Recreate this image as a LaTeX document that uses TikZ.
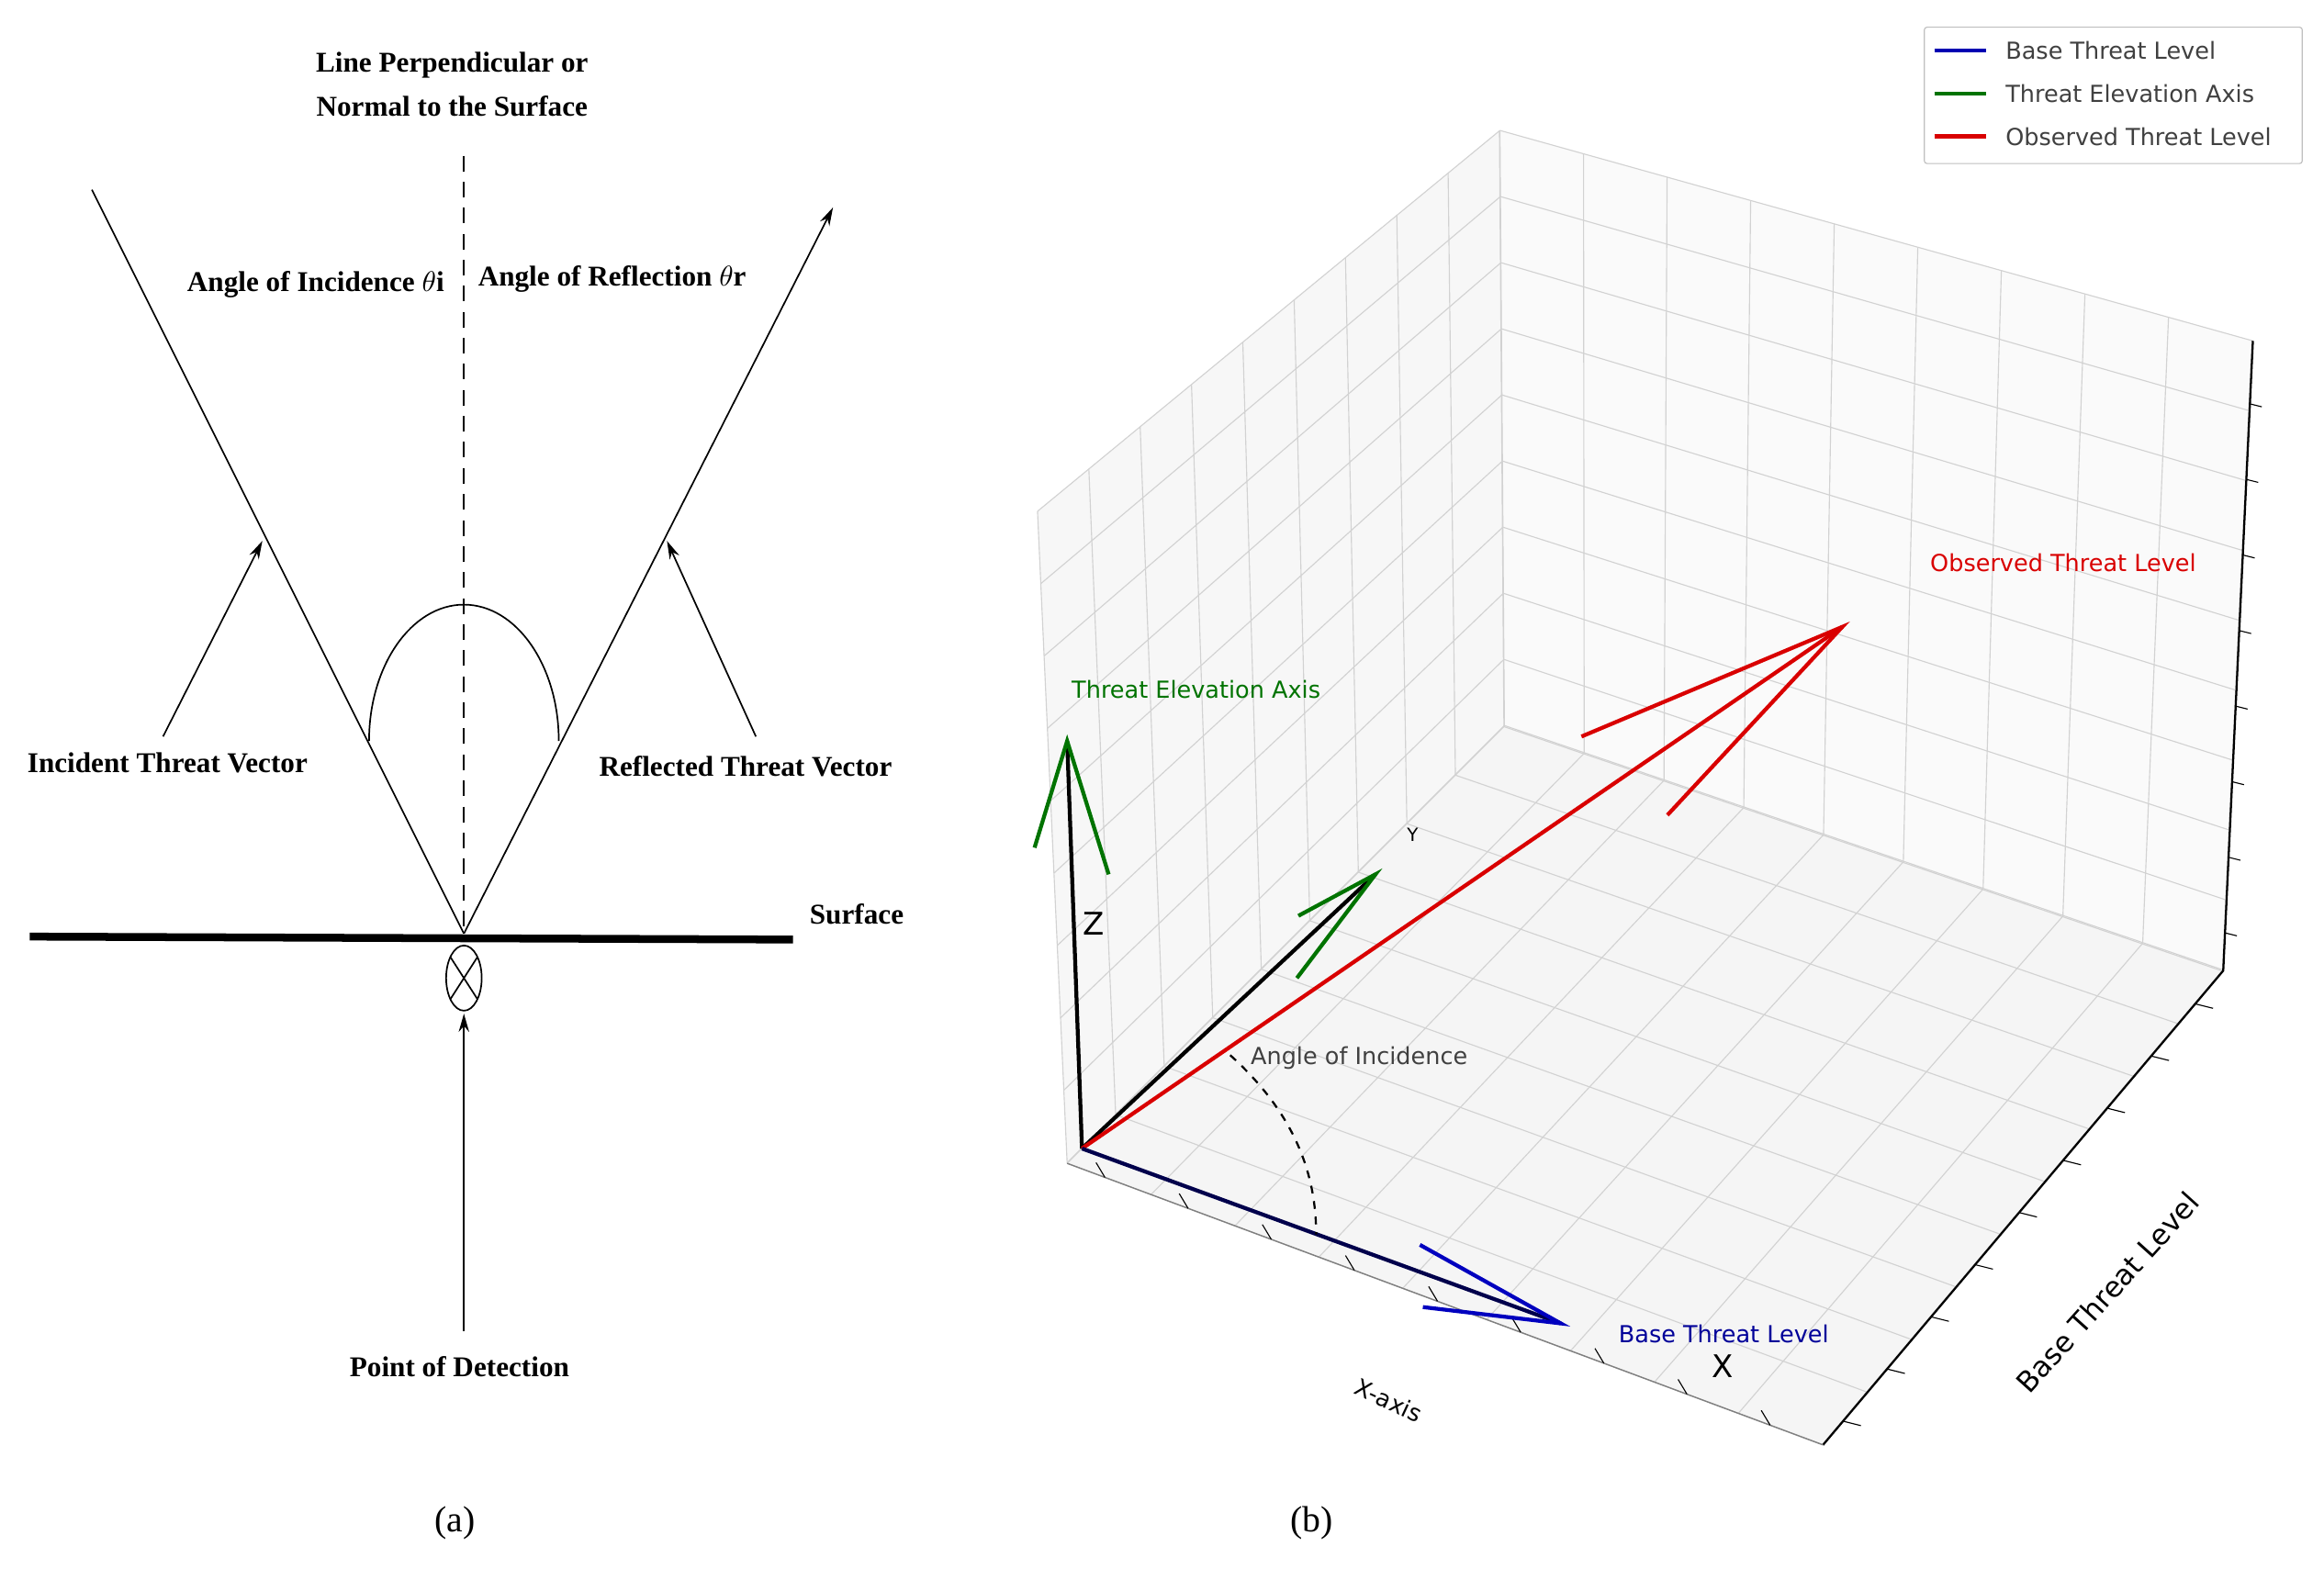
\documentclass[tikz,border=0pt]{standalone}
\usepackage{fontspec}
\setmainfont{Liberation Serif}
\newfontfamily\dv{DejaVu Sans}
\usetikzlibrary{calc,arrows.meta}
\begin{document}
\begin{tikzpicture}[x=0.02cm,y=-0.02cm,
  lt/.style={font=\fontsize{11}{13}\selectfont\bfseries},
  rt/.style={font=\dv\fontsize{9}{11}\selectfont},
  grid/.style={draw=gray!35,line width=0.4pt},
  arr/.style={-{Stealth[length=7pt,width=4pt]},line width=0.6pt}]
\useasboundingbox (0,0) rectangle (1568,1066);
% ---------- (a)
\node[lt,align=center] (title) at (305,57) {Line Perpendicular or\\[4pt]Normal to the Surface};
\coordinate (P) at (313,630);
\coordinate (ntop) at (313,105);
\draw[dash pattern=on 6pt off 4pt,line width=0.8pt] (ntop) -- (P);
\coordinate (istart) at (62,128);
\coordinate (rend) at (562,140);
\draw[line width=0.6pt] (istart) -- (P);
\draw[arr] (P) -- (rend);
\draw[line width=0.6pt] (249,500) arc[start angle=180,end angle=0,x radius=64,y radius=-92];
\coordinate (s1) at (20,632); \coordinate (s2) at (535,634);
\draw[line width=3pt] (s1) -- (s2);
\node[lt] (surf) at (578,617) {Surface};
\coordinate (det) at (313,660);
\draw[line width=0.6pt] (det) ellipse [x radius=12,y radius=22];
\draw[line width=0.6pt] (304,646) -- (322,674) (322,646) -- (304,674);
\node[lt] (pod) at (310,922) {Point of Detection};
\draw[arr] (313,898) -- (313,684);
\node[lt] (itv) at (113,515) {Incident Threat Vector};
\draw[arr] (110,497) -- (177,365);
\node[lt] (rtv) at (503,517) {Reflected Threat Vector};
\draw[arr] (510,497) -- (450,365);
\node[lt] (aoi) at (213,192) {Angle of Incidence $\theta$i};
\node[lt] (aor) at (413,188) {Angle of Reflection $\theta$r};
\node[font=\fontsize{14}{16}\selectfont] (la) at (307,1028) {(a)};
\node[font=\fontsize{14}{16}\selectfont] (lb) at (885,1028) {(b)};
% ---------- (b) box
\coordinate (LT) at (700,345); \coordinate (LB) at (720,785);
\coordinate (BT) at (1012,88); \coordinate (BB) at (1015,490);
\coordinate (RT) at (1520,230); \coordinate (RB) at (1500,655);
\coordinate (FB) at (1230,975);
\fill[gray!6] (LT)--(BT)--(BB)--(LB)--cycle;
\fill[gray!4] (BT)--(RT)--(RB)--(BB)--cycle;
\fill[gray!8] (LB)--(BB)--(RB)--(FB)--cycle;
\foreach \t in {0,0.111,...,1.01}{
  \draw[grid] ($(LT)!\t!(BT)$) -- ($(LB)!\t!(BB)$);
  \draw[grid] ($(LT)!\t!(LB)$) -- ($(BT)!\t!(BB)$);
  \draw[grid] ($(BT)!\t!(RT)$) -- ($(BB)!\t!(RB)$);
  \draw[grid] ($(BT)!\t!(BB)$) -- ($(RT)!\t!(RB)$);
  \draw[grid] ($(LB)!\t!(BB)$) -- ($(FB)!\t!(RB)$);
  \draw[grid] ($(LB)!\t!(FB)$) -- ($(BB)!\t!(RB)$);
}
\draw[line width=0.8pt] (RT) -- (RB) -- (FB);
\draw[line width=0.5pt,gray] (LB) -- (FB);
\foreach \t in {0.05,0.16,...,1}{
  \draw ($(LB)!\t!(FB)$) -- ++(-6,-10);
  \draw ($(FB)!\t!(RB)$) -- ++(12,3);
}
\foreach \t in {0.1,0.22,...,1}{\draw ($(RT)!\t!(RB)$) -- ++(8,2);}
% legend
\node[draw=gray!50,fill=white,minimum width=5.1cm,minimum height=1.84cm,anchor=north west,rounded corners=1pt] (leg) at (1298,18) {};
\draw[blue!70!black,line width=1.5pt] (1305,34) -- (1340,34);
\draw[green!45!black,line width=1.5pt] (1305,63) -- (1340,63);
\draw[red!85!black,line width=1.5pt] (1305,92) -- (1340,92);
\node[rt,anchor=west,text=black!75] (l1) at (1347,34) {Base Threat Level};
\node[rt,anchor=west,text=black!75] (l2) at (1347,63) {Threat Elevation Axis};
\node[rt,anchor=west,text=black!75] (l3) at (1347,92) {Observed Threat Level};
% vectors
\coordinate (O) at (730,775);
\coordinate (Zt) at (720,500); \coordinate (Yt) at (928,590);
\coordinate (Rt) at (1243,423); \coordinate (Xt) at (1053,893);
\draw[line width=1.5pt] (O) -- (Zt);
\draw[green!45!black,line width=1.5pt] (698,572) -- (Zt) -- (748,590);
\draw[line width=1.5pt] (O) -- (Yt);
\draw[green!45!black,line width=1.5pt] (875,660) -- (Yt) -- (876,618);
\draw[red!85!black,line width=1.5pt] (O) -- (Rt);
\draw[red!85!black,line width=1.5pt] (1067,497) -- (Rt) -- (1125,550);
\draw[blue!30!black,line width=1.5pt] (O) -- (Xt);
\draw[blue!75!black,line width=1.5pt] (958,840) -- (Xt) -- (960,882);
\draw[dashed,line width=0.8pt] (830,712) .. controls (872,750) and (888,790) .. (888,833);
\node[rt,text=green!45!black] (tea) at (807,465) {Threat Elevation Axis};
\node[rt,font=\dv\fontsize{12}{14}\selectfont] (zl) at (738,623) {Z};
\node[rt,font=\dv\fontsize{7}{9}\selectfont] (yl) at (953,563) {Y};
\node[rt,text=red!85!black] (otl) at (1392,380) {Observed Threat Level};
\node[rt,text=black!75] (ai) at (917,714) {Angle of Incidence};
\node[rt,text=blue!60!black] (btl) at (1163,900) {Base Threat Level};
\node[rt,font=\dv\fontsize{12}{14}\selectfont] (xl) at (1162,922) {X};
\node[rt,rotate=-25] (xa) at (937,945) {X-axis};
\node[rt,font=\dv\fontsize{11}{13}\selectfont,rotate=48] (bta) at (1422,872) {Base Threat Level};
\end{tikzpicture}
\end{document}
